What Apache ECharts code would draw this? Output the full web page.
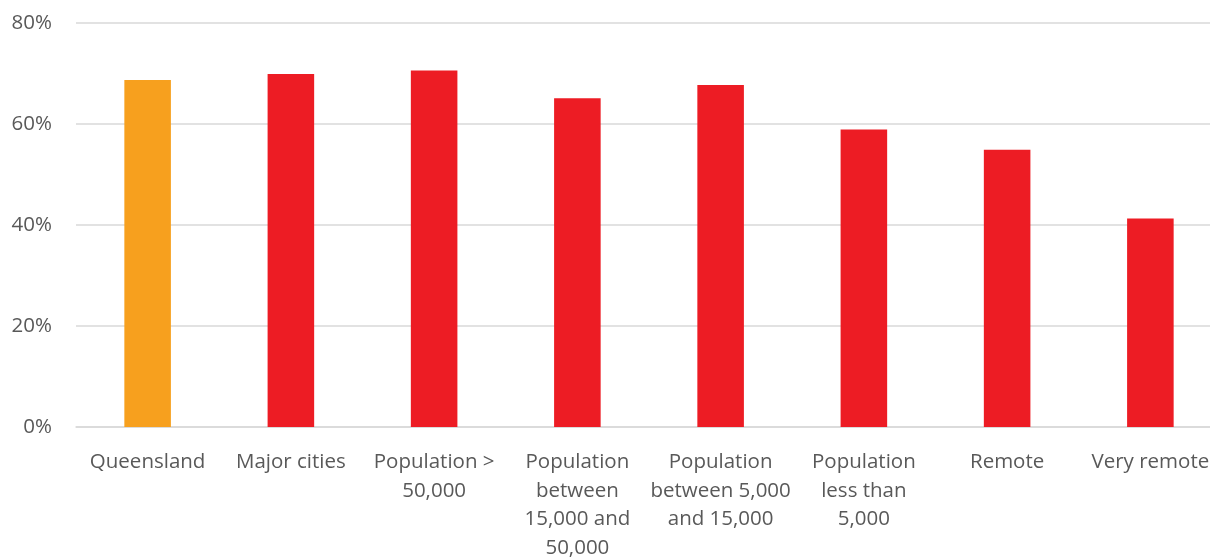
<!DOCTYPE html>
<html><head><meta charset="utf-8">
<script src="https://cdn.jsdelivr.net/npm/echarts@6/dist/echarts.min.js"></script>
<style>html,body{margin:0;padding:0;background:#fff}#c{width:1210px;height:557px}</style>
</head><body><div id="c"></div>
<script>
const categories = ["Queensland", "Major cities", "Population >\n50,000", "Population\nbetween\n15,000 and\n50,000", "Population\nbetween 5,000\nand 15,000", "Population\nless than\n5,000", "Remote", "Very remote"];
const values = [68.7, 69.9, 70.6, 65.1, 67.7, 58.9, 54.9, 41.3];
const barColors = ["#F7A01E", "#ED1C24", "#ED1C24", "#ED1C24", "#ED1C24", "#ED1C24", "#ED1C24", "#ED1C24"];
const yTicks = [0, 20, 40, 60, 80];

const chart = echarts.init(document.getElementById('c'));
chart.setOption({
  animation: false,
  grid: {left: 76, width: 1146, top: 23, height: 404, containLabel: false, outerBoundsMode: 'none'},
  xAxis: {
    type: 'category', data: categories,
    axisLine: {lineStyle: {color: '#D9D9D9', width: 1.5}},
    axisTick: {show: false},
    axisLabel: {interval: 0, color: '#595959', fontFamily: 'Open Sans', fontSize: 20.5, lineHeight: 28.5, margin: 21}
  },
  yAxis: {
    type: 'value', min: yTicks[0], max: yTicks[yTicks.length-1], interval: 20,
    axisLine: {show: false}, axisTick: {show: false},
    splitLine: {lineStyle: {color: '#D9D9D9', width: 1.5}},
    axisLabel: {formatter: '{value}%', color: '#595959', fontFamily: 'Open Sans', fontSize: 20.5, margin: 24}
  },
  series: [{
    type: 'bar', barWidth: '32.5%',
    data: values.map((v, i) => ({value: v, itemStyle: {color: barColors[i]}}))
  }]
});
</script></body></html>
